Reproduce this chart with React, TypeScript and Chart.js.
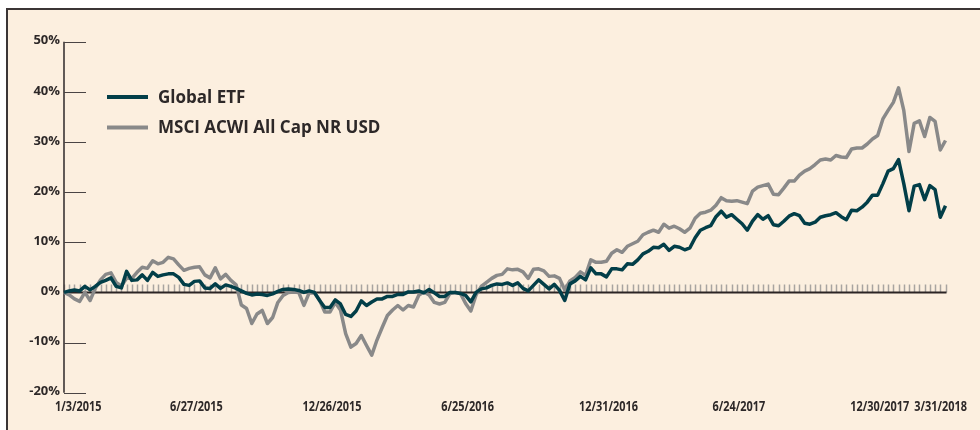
import React, { useEffect, useRef } from "react";
import { Chart, registerables } from "chart.js";

Chart.register(...registerables);

const globalEtf: number[] = [
  0.0, 0.3, 0.5, 0.3, 1.2, 0.5, 1.2, 2.0, 2.4, 2.9,
  1.2, 0.9, 4.2, 2.4, 2.5, 3.5, 2.4, 4.0, 3.2, 3.5,
  3.7, 3.7, 3.0, 1.6, 1.4, 2.2, 2.3, 0.9, 0.8, 1.7,
  0.8, 1.5, 1.2, 0.8, 0.3, -0.2, -0.5, -0.3, -0.4, -0.6,
  -0.3, 0.2, 0.6, 0.7, 0.6, 0.4, 0.0, 0.3, 0.0, -1.6,
  -3.0, -3.0, -1.5, -2.3, -4.4, -4.8, -3.7, -1.7, -2.6, -1.9,
  -1.3, -1.3, -0.8, -0.8, -0.4, -0.4, 0.1, 0.1, 0.3, -0.1,
  0.6, -0.1, -0.8, -0.8, 0.0, 0.0, -0.2, -0.6, -1.9, 0.0,
  0.7, 0.9, 1.4, 1.7, 1.6, 1.9, 1.4, 1.9, 0.8, 0.3,
  1.4, 2.5, 1.6, 0.7, 1.6, 0.4, -1.6, 1.7, 2.3, 3.2,
  2.5, 4.9, 3.7, 3.7, 3.1, 4.7, 4.7, 4.5, 5.7, 5.6,
  6.5, 7.7, 8.2, 9.0, 8.9, 9.6, 8.4, 9.2, 9.0, 8.5,
  8.9, 10.9, 12.4, 12.9, 13.3, 15.1, 16.2, 15.0, 15.5, 14.6,
  13.7, 12.4, 14.2, 15.5, 14.6, 15.3, 13.5, 13.3, 14.2, 15.2,
  15.7, 15.3, 13.8, 13.6, 14.0, 15.0, 15.3, 15.5, 15.9, 15.1,
  14.5, 16.4, 16.3, 17.0, 18.0, 19.4, 19.4, 21.7, 24.2, 24.7,
  26.5, 21.7, 16.3, 21.2, 21.5, 18.5, 21.3, 20.5, 15.0, 17.3,
];

const msciAcwi: number[] = [
  0.0, -0.5, -1.3, -1.8, 0.0, -1.6, 0.8, 2.5, 3.6, 3.9,
  2.0, 1.3, 2.8, 2.8, 4.0, 5.0, 4.8, 6.3, 5.7, 6.0,
  7.0, 6.7, 5.5, 4.4, 4.8, 5.0, 5.1, 3.5, 2.9, 4.9,
  2.7, 3.6, 2.4, 1.5, -2.5, -3.2, -6.2, -4.3, -3.6, -6.2,
  -5.0, -2.0, -0.6, 0.0, 0.1, 0.0, -2.6, -0.1, -0.1, -1.5,
  -3.9, -3.9, -2.0, -3.5, -8.2, -10.9, -10.2, -8.6, -10.6, -12.5,
  -9.5, -7.0, -4.6, -3.5, -2.6, -3.5, -2.6, -2.9, -0.6, 0.1,
  -0.5, -2.0, -2.3, -2.0, -0.2, 0.0, -0.2, -2.2, -3.7, -0.5,
  1.2, 2.0, 2.8, 3.4, 3.6, 4.7, 4.5, 4.6, 4.1, 2.8,
  4.6, 4.7, 4.3, 3.2, 3.3, 2.8, 0.5, 2.3, 3.0, 4.1,
  3.4, 6.5, 6.0, 6.0, 6.2, 7.8, 8.5, 8.0, 9.2, 9.7,
  10.2, 11.5, 12.0, 12.4, 12.0, 13.6, 12.8, 13.2, 12.7, 12.0,
  12.8, 14.8, 15.8, 16.0, 16.4, 17.4, 18.9, 18.3, 18.2, 18.3,
  18.0, 17.7, 20.2, 21.0, 21.3, 21.6, 19.6, 19.5, 20.8, 22.2,
  22.2, 23.4, 24.2, 24.7, 25.5, 26.4, 26.6, 26.4, 27.3, 27.0,
  26.9, 28.6, 28.8, 28.8, 29.6, 30.6, 31.3, 34.6, 36.3, 37.9,
  40.8, 36.3, 28.1, 33.7, 34.2, 31.1, 34.9, 34.1, 28.4, 30.3,
];

const seriesNames: string[] = ["Global ETF", "MSCI ACWI All Cap NR USD"];
const seriesColors: string[] = ["#023e48", "#898989"];

const xTickLabels: string[] = [
  "1/3/2015", "6/27/2015", "12/26/2015", "6/25/2016",
  "12/31/2016", "6/24/2017", "12/30/2017", "3/31/2018",
];

const yTickValues: number[] = [50, 40, 30, 20, 10, 0, -10, -20];

function weekLabel(i: number): string {
  const d = new Date(Date.UTC(2015, 0, 3 + 7 * i));
  return `${d.getUTCMonth() + 1}/${d.getUTCDate()}/${d.getUTCFullYear()}`;
}

const categories: string[] = globalEtf.map((_, i) => weekLabel(i));

const X_SQUEEZE = 0.78;

const decorPlugin = {
  id: "decor",
  beforeDraw(chart: any) {
    const { ctx, width, height } = chart;
    ctx.save();
    ctx.fillStyle = "#ffffff";
    ctx.fillRect(0, 0, width, height);
    ctx.fillStyle = "#fcefdf";
    ctx.fillRect(8, 10, width - 8, height - 10);
    ctx.strokeStyle = "#3b3535";
    ctx.lineWidth = 2;
    ctx.beginPath();
    ctx.moveTo(7, height);
    ctx.lineTo(7, 9);
    ctx.lineTo(width, 9);
    ctx.stroke();
    ctx.restore();
  },
  beforeDatasetsDraw(chart: any) {
    const { ctx, scales } = chart;
    const x = scales.x;
    const y = scales.y;
    const left = x.getPixelForValue(0);
    const right = x.getPixelForValue(categories.length - 1);
    const top = y.getPixelForValue(50);
    const bottom = y.getPixelForValue(-20);
    const zero = y.getPixelForValue(0);
    ctx.save();
    ctx.strokeStyle = "#a8a4a0";
    ctx.lineWidth = 1.5;
    ctx.beginPath();
    for (let i = 0; i < categories.length; i++) {
      const px = Math.round(x.getPixelForValue(i)) + 0.5;
      ctx.moveTo(px, zero - 8);
      ctx.lineTo(px, zero);
    }
    ctx.stroke();
    ctx.strokeStyle = "#3a3434";
    ctx.lineWidth = 1.6;
    ctx.beginPath();
    ctx.moveTo(left, top);
    ctx.lineTo(left, bottom);
    ctx.stroke();
    ctx.strokeStyle = "#4a4444";
    ctx.lineWidth = 1.2;
    ctx.beginPath();
    yTickValues.forEach((v) => {
      if (v === 0) return;
      const py = Math.round(y.getPixelForValue(v)) + 0.5;
      ctx.moveTo(left, py);
      ctx.lineTo(left + 22, py);
    });
    ctx.stroke();
    ctx.strokeStyle = "#2b2424";
    ctx.lineWidth = 2;
    ctx.beginPath();
    ctx.moveTo(left, zero);
    ctx.lineTo(right + 1, zero);
    ctx.stroke();
    ctx.fillStyle = "#2d2828";
    ctx.font = "bold 13px 'Open Sans', 'DejaVu Sans', sans-serif";
    ctx.textAlign = "right";
    ctx.textBaseline = "middle";
    yTickValues.forEach((v) => {
      ctx.fillText(`${v}%`, left - 4, y.getPixelForValue(v) - 1);
    });
    ctx.restore();
  },
  afterDraw(chart: any) {
    const { ctx, scales } = chart;
    const x = scales.x;
    const y = scales.y;
    ctx.save();
    ctx.fillStyle = "#2d2828";
    ctx.font = "bold 14px 'Open Sans', 'DejaVu Sans', sans-serif";
    ctx.textAlign = "left";
    ctx.textBaseline = "middle";
    const labelY = y.getPixelForValue(-20) + 14;
    xTickLabels.forEach((lab) => {
      const idx = categories.indexOf(lab);
      if (idx < 0) return;
      const w = ctx.measureText(lab).width * X_SQUEEZE;
      let lx = x.getPixelForValue(idx) + 2 - w / 2;
      if (lx < 55) lx = 55;
      if (lx + w > 967) lx = 967 - w;
      ctx.save();
      ctx.translate(lx, labelY);
      ctx.scale(X_SQUEEZE, 1);
      ctx.fillText(lab, 0, 0);
      ctx.restore();
    });
    const ds = chart.data.datasets;
    ctx.font = "bold 17px 'Open Sans', 'DejaVu Sans', sans-serif";
    ds.forEach((d: any, k: number) => {
      const ly = 97 + k * 30.5;
      ctx.strokeStyle = d.borderColor;
      ctx.lineWidth = 4;
      ctx.beginPath();
      ctx.moveTo(107, ly);
      ctx.lineTo(148, ly);
      ctx.stroke();
      ctx.fillStyle = "#2d2828";
      ctx.fillText(d.label, 158, ly + 1);
    });
    ctx.restore();
  },
};

export default function App() {
  const canvasRef = useRef<HTMLCanvasElement | null>(null);

  useEffect(() => {
    const canvas = canvasRef.current;
    if (!canvas) return;
    const chart = new Chart(canvas, {
      type: "line",
      data: {
        labels: categories,
        datasets: [
          {
            label: seriesNames[0],
            data: globalEtf,
            borderColor: seriesColors[0],
            borderWidth: 3.5,
            pointRadius: 0,
            tension: 0,
            borderJoinStyle: "round",
            order: 0,
          },
          {
            label: seriesNames[1],
            data: msciAcwi,
            borderColor: seriesColors[1],
            borderWidth: 3.5,
            pointRadius: 0,
            tension: 0,
            borderJoinStyle: "round",
            order: 1,
          },
        ],
      },
      options: {
        responsive: false,
        animation: false,
        devicePixelRatio: 1,
        layout: { padding: { left: 64, right: 34.5, top: 41.7, bottom: 37.3 } },
        plugins: { legend: { display: false }, tooltip: { enabled: false } },
        scales: {
          x: { type: "category", display: false, offset: false },
          y: { type: "linear", display: false, min: -20, max: 50 },
        },
      },
      plugins: [decorPlugin],
    });
    return () => chart.destroy();
  }, []);

  return (
    <div style={{ position: "fixed", left: 0, top: 0, width: 980, height: 430 }}>
      <canvas ref={canvasRef} width={980} height={430} style={{ display: "block" }} />
    </div>
  );
}
